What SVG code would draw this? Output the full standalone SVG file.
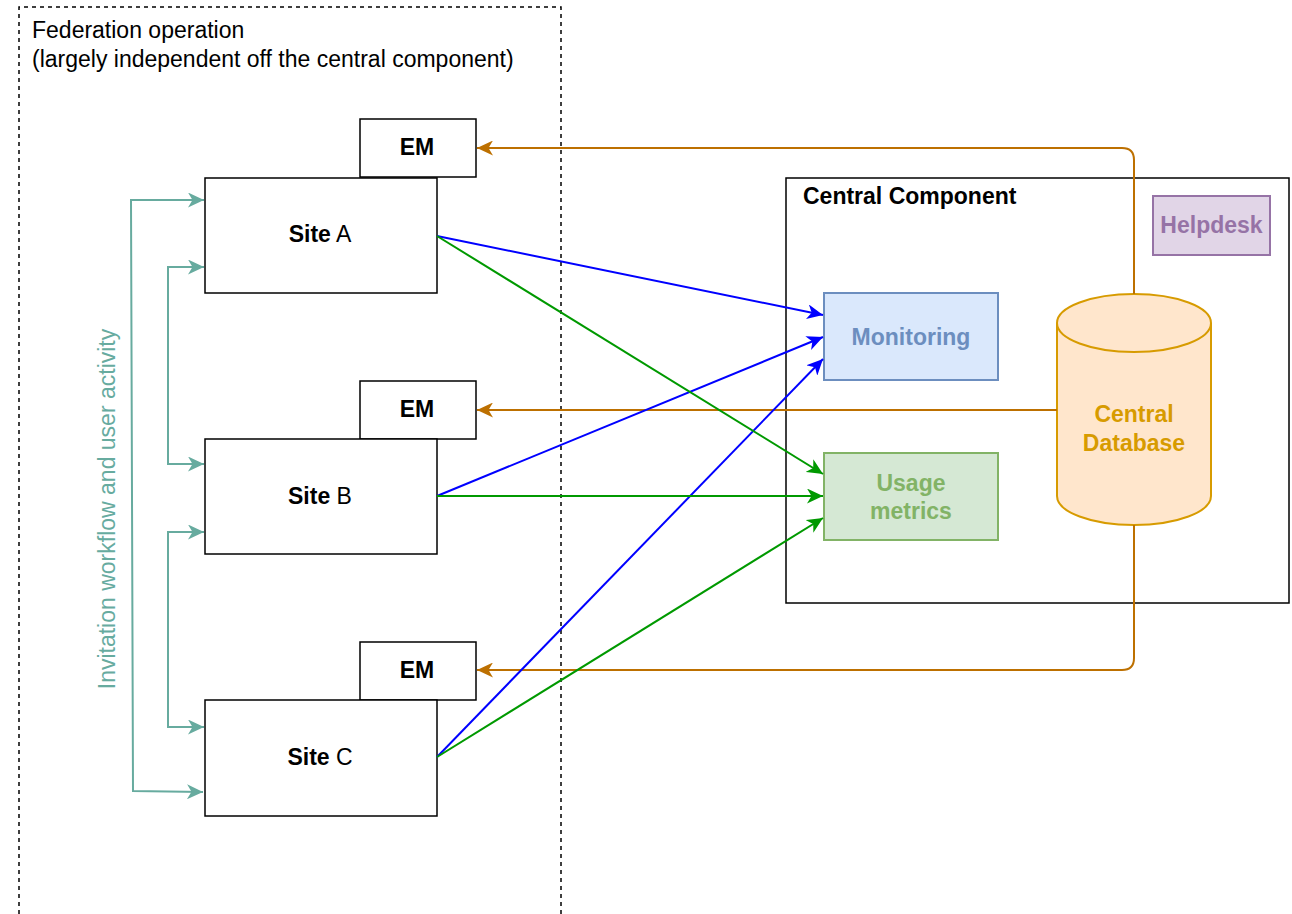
<svg xmlns="http://www.w3.org/2000/svg" width="1292" height="914" viewBox="0 0 1292 914">
<defs>
<style>
text{font-family:"Liberation Sans",Arial,sans-serif;font-size:23px}
.box{fill:#fff;stroke:#000;stroke-width:1.5}
.b{font-weight:bold}
.c{text-anchor:middle}
.or{fill:none;stroke:#BD7000;stroke-width:2}
.bl{fill:none;stroke:#0000FF;stroke-width:2}
.gr{fill:none;stroke:#009900;stroke-width:2}
.tl{fill:none;stroke:#67AB9F;stroke-width:2}
</style>
<marker id="mo" markerUnits="userSpaceOnUse" markerWidth="17" markerHeight="15" refX="16" refY="7.5" orient="auto-start-reverse"><path d="M0,0 L16,7.5 L0,15 L4.5,7.5 z" fill="#BD7000"/></marker>
<marker id="mb" markerUnits="userSpaceOnUse" markerWidth="17" markerHeight="15" refX="16" refY="7.5" orient="auto-start-reverse"><path d="M0,0 L16,7.5 L0,15 L4.5,7.5 z" fill="#0000FF"/></marker>
<marker id="mg" markerUnits="userSpaceOnUse" markerWidth="17" markerHeight="15" refX="16" refY="7.5" orient="auto-start-reverse"><path d="M0,0 L16,7.5 L0,15 L4.5,7.5 z" fill="#009900"/></marker>
<marker id="mt" markerUnits="userSpaceOnUse" markerWidth="17" markerHeight="15" refX="16" refY="7.5" orient="auto-start-reverse"><path d="M0,0 L16,7.5 L0,15 L4.5,7.5 z" fill="#67AB9F"/></marker>
</defs>
<rect width="1292" height="914" fill="#fff"/>

<g id="federation">
<path d="M19,914 V7 H561 V914" fill="none" stroke="#000" stroke-width="1.5" stroke-dasharray="4 4"/>
<text x="32" y="38">Federation operation</text>
<text x="32" y="67">(largely independent off the central component)</text>
</g>

<g id="central-component">
<rect x="786" y="178" width="503" height="425" class="box"/>
<text x="803" y="204" class="b">Central Component</text>
</g>

<g id="helpdesk">
<rect x="1153" y="196" width="117" height="59" fill="#e1d5e7" stroke="#9673a6" stroke-width="2"/>
<text x="1211.5" y="233" class="b c" fill="#9673a6">Helpdesk</text>
</g>

<g id="monitoring">
<rect x="824" y="293" width="174" height="87" fill="#dae8fc" stroke="#6c8ebf" stroke-width="2"/>
<text x="911" y="345" class="b c" fill="#6c8ebf">Monitoring</text>
</g>

<g id="usage">
<rect x="824" y="453" width="174" height="87" fill="#d5e8d4" stroke="#82b366" stroke-width="2"/>
<text x="911" y="491" class="b c" fill="#82b366">Usage</text>
<text x="911" y="519" class="b c" fill="#82b366">metrics</text>
</g>

<g id="database">
<path d="M1057,323 A77,29 0 0 1 1211,323 V496 A77,29 0 0 1 1057,496 Z" fill="#ffe6cc" stroke="#d79b00" stroke-width="2"/>
<path d="M1057,323 A77,29 0 0 0 1211,323" fill="none" stroke="#d79b00" stroke-width="2"/>
<text x="1134" y="422" class="b c" fill="#d79b00">Central</text>
<text x="1134" y="451" class="b c" fill="#d79b00">Database</text>
</g>

<g id="em-a"><rect x="360" y="119" width="116" height="58" class="box"/><text x="417" y="155" class="b c">EM</text></g>
<g id="em-b"><rect x="360" y="381" width="116" height="58" class="box"/><text x="417" y="417" class="b c">EM</text></g>
<g id="em-c"><rect x="360" y="642" width="116" height="58" class="box"/><text x="417" y="678" class="b c">EM</text></g>

<g id="site-a"><rect x="205" y="178" width="232" height="115" class="box"/><text x="320" y="242" class="c"><tspan class="b">Site</tspan> A</text></g>
<g id="site-b"><rect x="205" y="439" width="232" height="115" class="box"/><text x="320" y="504" class="c"><tspan class="b">Site</tspan> B</text></g>
<g id="site-c"><rect x="205" y="700" width="232" height="116" class="box"/><text x="320" y="765" class="c"><tspan class="b">Site</tspan> C</text></g>

<g id="connectors">
<path class="or" d="M1134,294 V160 Q1134,148 1122,148 H477" marker-end="url(#mo)"/>
<path class="or" d="M1057,410 H477" marker-end="url(#mo)"/>
<path class="or" d="M1134,525 V658 Q1134,670 1122,670 H477" marker-end="url(#mo)"/>

<path class="bl" d="M437,236 L823,315" marker-end="url(#mb)"/>
<path class="bl" d="M437,496 L823,337" marker-end="url(#mb)"/>
<path class="bl" d="M437,757 L823,359" marker-end="url(#mb)"/>

<path class="gr" d="M437,236 L823,474" marker-end="url(#mg)"/>
<path class="gr" d="M437,496 L823,496" marker-end="url(#mg)"/>
<path class="gr" d="M437,757 L823,518" marker-end="url(#mg)"/>

<path class="tl" d="M204,200 H131 L133,791 L203,792" marker-start="url(#mt)" marker-end="url(#mt)"/>
<path class="tl" d="M204,267 H168 V464 H204" marker-start="url(#mt)" marker-end="url(#mt)"/>
<path class="tl" d="M204,532 H168 V727 H204" marker-start="url(#mt)" marker-end="url(#mt)"/>
<text transform="translate(115,509) rotate(-90)" class="c" fill="#67AB9F">Invitation workflow and user activity</text>
</g>
</svg>
